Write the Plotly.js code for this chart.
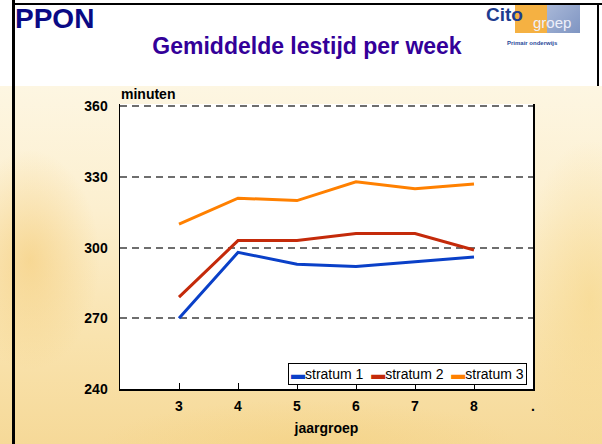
<!DOCTYPE html>
<html>
<head>
<meta charset="utf-8">
<script src="https://cdn.plot.ly/plotly-3.0.1.min.js"></script>
<style>
  html, body { margin: 0; padding: 0; background: #ffffff; }
  #wrap { position: relative; width: 602px; height: 444px; overflow: hidden; background: #ffffff; }
  #pagebg { position: absolute; left: 0; top: 86px; width: 602px; height: 358px;
    background: linear-gradient(to bottom, #fdf6e2 0%, #fcefcf 35%, #f9e3ae 70%, #f6d998 100%); }
  .blob { position: absolute; border-radius: 50%; }
  .frame { position: absolute; background: #000000; }
  .logoblk { position: absolute; }
  #chart { position: absolute; left: 0; top: 0; width: 602px; height: 444px; }
</style>
</head>
<body>
<div id="wrap">
  <div id="pagebg"></div>
  <div class="blob" style="left:-40px;top:150px;width:140px;height:220px;background:radial-gradient(closest-side, rgba(244,200,110,0.55), rgba(244,200,110,0));"></div>
  <div class="blob" style="left:520px;top:140px;width:140px;height:320px;background:radial-gradient(closest-side, rgba(247,214,135,0.6), rgba(247,214,135,0));"></div>
  <div class="blob" style="left:100px;top:400px;width:420px;height:90px;background:radial-gradient(closest-side, rgba(244,208,125,0.5), rgba(244,208,125,0));"></div>
  <div class="logoblk" style="left:515px;top:4px;width:32px;height:29px;background:#f5b142;"></div>
  <div class="logoblk" style="left:547px;top:4px;width:33px;height:29px;background:linear-gradient(135deg,#a9b8d8,#7f95c2);"></div>
  <div class="frame" style="left:12px;top:0px;width:3px;height:444px;"></div>
  <div class="frame" style="left:12px;top:3px;width:590px;height:2px;"></div>
  <div class="frame" style="left:597px;top:3px;width:2px;height:83px;"></div>
  <div id="chart"></div>
</div>
<script>
// ---- data ----
const jaargroep = [3, 4, 5, 6, 7, 8];
const stratum1 = [270, 298, 293, 292, 294, 296];
const stratum2 = [279, 303, 303, 306, 306, 299];
const stratum3 = [310, 321, 320, 328, 325, 327];
const seriesNames = ['stratum 1', 'stratum 2', 'stratum 3'];
const seriesColors = ['#0a40c8', '#c42a0a', '#ff8000'];
const xTickVals = [3, 4, 5, 6, 7, 8, 9];
const xTickText = ['3', '4', '5', '6', '7', '8', '.'];
const yTickVals = [240, 270, 300, 330, 360];

// ---- layout helpers ----
const W = 602, H = 444;
const M = { l: 120, r: 69, t: 104, b: 55 };
const plotW = W - M.l - M.r, plotH = H - M.t - M.b;
const px = p => (p - M.l) / plotW;
const py = p => (H - M.b - p) / plotH;
const FONT = 'Liberation Sans, Arial, Helvetica, sans-serif';

const allSeries = [stratum1, stratum2, stratum3];
const traces = allSeries.map((ys, i) => ({
  type: 'scatter', mode: 'lines', x: jaargroep, y: ys, name: seriesNames[i],
  line: { color: seriesColors[i], width: 3 }, showlegend: false, hoverinfo: 'skip'
}));

const legendText = seriesNames.map((n, i) =>
  '<span style="color:' + seriesColors[i] + '">\u25AC</span>' + n
).join('\u00a0\u00a0');

const layout = {
  width: W, height: H,
  margin: M,
  paper_bgcolor: 'rgba(0,0,0,0)',
  plot_bgcolor: '#ffffff',
  showlegend: false,
  font: { family: FONT, color: '#000000', size: 14 },
  title: {
    text: 'Gemiddelde lestijd per week',
    x: 307 / W, xref: 'container', xanchor: 'center',
    y: 1 - 46 / H, yref: 'container', yanchor: 'middle',
    font: { family: FONT, size: 23, weight: 'bold', color: '#330099' }
  },
  xaxis: {
    range: [2, 9], tickmode: 'array', tickvals: xTickVals, ticktext: xTickText,
    ticks: 'inside', ticklen: 6, tickwidth: 1, tickcolor: '#000000',
    showline: true, linecolor: '#000000', linewidth: 1.5, mirror: false,
    showgrid: false, zeroline: false,
    tickfont: { family: FONT, size: 14, weight: 'bold', color: '#000000' },
    ticklabelstandoff: 4,
    title: { text: 'jaargroep', standoff: 10, font: { family: FONT, size: 14, weight: 'bold', color: '#000000' } }
  },
  yaxis: {
    range: [240, 361], tickmode: 'array', tickvals: yTickVals,
    ticks: '', showline: true, linecolor: '#000000', linewidth: 1.5, mirror: true,
    showgrid: true, gridcolor: '#6e6e6e', gridwidth: 1.8, griddash: '7px,5px',
    zeroline: false,
    tickfont: { family: FONT, size: 14, weight: 'bold', color: '#000000' },
    ticklabelstandoff: 8
  },
  annotations: [
    { text: 'PPON', xref: 'paper', yref: 'paper', x: px(13), y: py(19), xanchor: 'left', yanchor: 'middle',
      showarrow: false, font: { family: FONT, size: 28, weight: 'bold', color: '#0a0a85' } },
    { text: 'minuten', xref: 'paper', yref: 'paper', x: px(119), y: py(94), xanchor: 'left', yanchor: 'middle',
      showarrow: false, font: { family: FONT, size: 14, weight: 'bold', color: '#000000' } },
    { text: legendText, xref: 'paper', yref: 'paper', x: px(527), y: py(384.5), xanchor: 'right', yanchor: 'bottom',
      showarrow: false, bgcolor: '#ffffff', bordercolor: '#000000', borderwidth: 1, borderpad: 2,
      font: { family: FONT, size: 14, color: '#000000' } },
    { text: 'Cito', xref: 'paper', yref: 'paper', x: px(484), y: py(15), xanchor: 'left', yanchor: 'middle',
      showarrow: false, font: { family: FONT, size: 19, weight: 'bold', color: '#1d3c8f' } },
    { text: 'groep', xref: 'paper', yref: 'paper', x: px(531), y: py(22), xanchor: 'left', yanchor: 'middle',
      showarrow: false, font: { family: FONT, size: 15, color: '#eef0fa' } },
    { text: 'Primair onderwijs', xref: 'paper', yref: 'paper', x: px(532), y: py(43), xanchor: 'center', yanchor: 'middle',
      showarrow: false, font: { family: FONT, size: 6, weight: 'bold', color: '#2a4a9a' } }
  ]
};

Plotly.newPlot('chart', traces, layout, { displayModeBar: false, staticPlot: true });
</script>
</body>
</html>
